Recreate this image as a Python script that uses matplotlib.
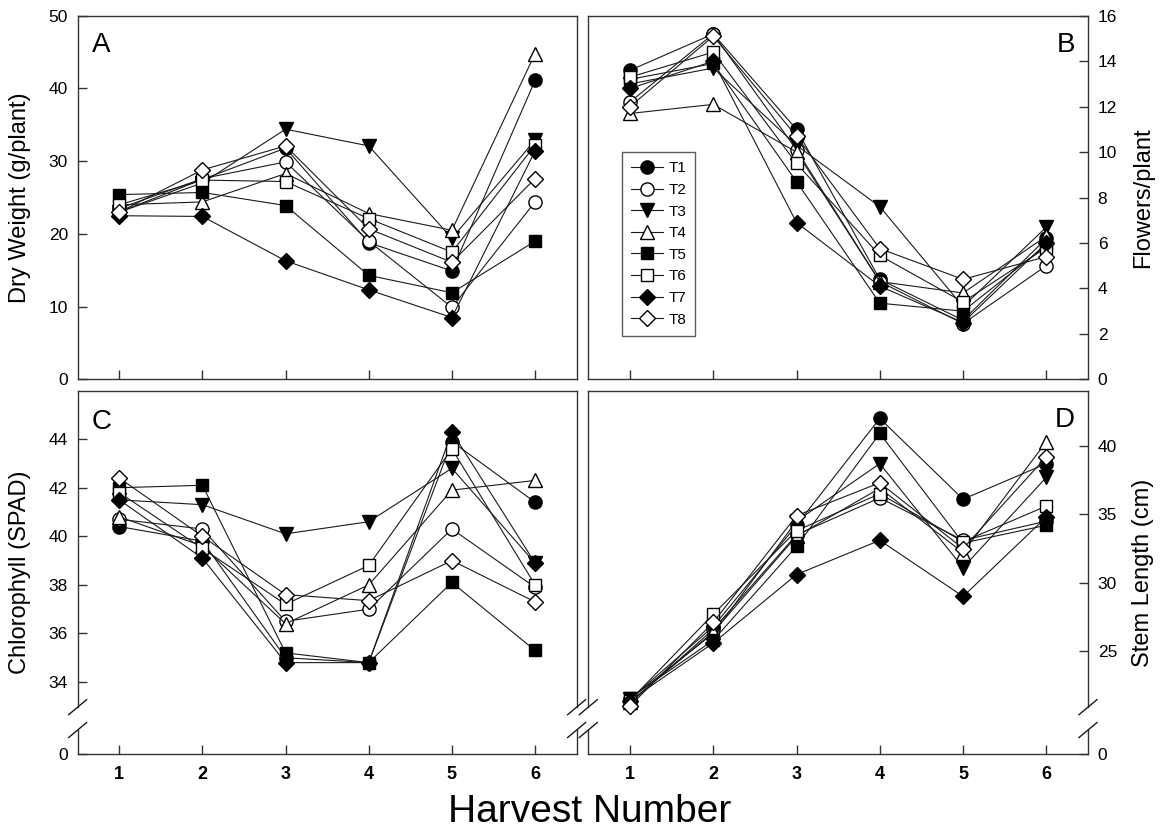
import numpy as np
import matplotlib
matplotlib.use('Agg')
import matplotlib.pyplot as plt

plt.rcParams['font.family'] = ['Liberation Sans', 'DejaVu Sans']

# Numero de cosecha
harvest = [1, 2, 3, 4, 5, 6]
treatments = ['T1', 'T2', 'T3', 'T4', 'T5', 'T6', 'T7', 'T8']

# A: peso seco (g/planta), una fila por tratamiento
dry_weight = [
    [23.0, 27.5, 31.8, 18.8, 14.9, 41.1],
    [23.5, 27.6, 29.9, 19.0, 9.9, 24.4],
    [23.0, 27.0, 34.4, 32.1, 19.4, 32.9],
    [24.0, 24.4, 28.3, 22.8, 20.5, 44.8],
    [25.4, 25.7, 23.9, 14.3, 11.9, 19.0],
    [24.0, 27.4, 27.2, 22.1, 17.5, 32.2],
    [22.5, 22.4, 16.3, 12.3, 8.5, 31.4],
    [23.0, 28.8, 32.1, 20.7, 16.1, 27.6],
]

# B: flores por planta
flowers = [
    [13.6, 15.2, 11.0, 4.4, 2.6, 6.2],
    [12.2, 15.2, 10.1, 4.3, 2.45, 5.0],
    [13.0, 13.7, 10.3, 7.6, 3.2, 6.7],
    [11.7, 12.1, 10.0, 4.3, 3.8, 6.3],
    [13.2, 13.9, 8.7, 3.35, 3.0, 5.9],
    [13.3, 14.4, 9.5, 5.45, 3.4, 5.8],
    [12.8, 14.0, 6.9, 4.1, 2.5, 6.0],
    [12.0, 15.1, 10.7, 5.75, 4.4, 5.4],
]

# C: clorofila (SPAD)
chlorophyll = [
    [40.4, 39.8, 35.0, 34.8, 43.9, 41.4],
    [40.7, 40.3, 36.5, 37.0, 40.3, 37.9],
    [41.5, 41.3, 40.1, 40.6, 42.8, 38.9],
    [40.8, 39.6, 36.4, 38.0, 41.9, 42.3],
    [42.0, 42.1, 35.2, 34.8, 38.1, 35.3],
    [41.8, 39.5, 37.2, 38.8, 43.6, 38.0],
    [41.5, 39.1, 34.8, 34.8, 44.3, 38.9],
    [42.4, 40.0, 37.6, 37.35, 39.0, 37.3],
]

# D: longitud del tallo (cm)
stem_length = [
    [21.5, 26.8, 34.2, 42.0, 36.1, 38.7],
    [21.2, 26.6, 33.5, 36.2, 33.1, 34.5],
    [21.5, 26.3, 34.5, 38.7, 31.1, 37.7],
    [21.3, 26.4, 33.4, 36.9, 32.2, 40.3],
    [21.6, 25.8, 32.65, 40.9, 32.9, 34.2],
    [21.4, 27.7, 33.8, 36.5, 33.0, 35.6],
    [21.4, 25.6, 30.6, 33.1, 29.0, 34.8],
    [21.0, 27.1, 34.9, 37.3, 32.5, 39.2],
]

# estilo de marcador por tratamiento
markers = ['o', 'o', 'v', '^', 's', 's', 'D', 'D']
faces = ['black', 'white'] * 4
sizes = [9.5, 9.5, 9.5, 9.5, 8.8, 8.8, 7.8, 7.8]

fig = plt.figure(figsize=(11.68, 8.3), dpi=100)
ax_a = fig.add_axes([0.0665, 0.543, 0.4272, 0.438])
ax_b = fig.add_axes([0.5037, 0.543, 0.4278, 0.438])
ax_c = fig.add_axes([0.0665, 0.0916, 0.4272, 0.4373])
ax_d = fig.add_axes([0.5037, 0.0916, 0.4278, 0.4373])


def draw(ax, data):
    for i, vals in enumerate(data):
        ax.plot(harvest, vals, color='#1a1a1a', lw=0.8, marker=markers[i],
                ms=sizes[i], mfc=faces[i], mec='black', mew=1.0,
                label=treatments[i])
    ax.set_xlim(0.5, 6.5)
    ax.set_xticks(harvest)
    for sp in ax.spines.values():
        sp.set_linewidth(1.0)
        sp.set_color('#333333')
    ax.tick_params(direction='in', length=6.5, width=1.0, color='#333333',
                   labelsize=12.5, pad=7)


def broken(ax):
    # eje cortado: huecos en los bordes verticales y barras dobles
    ax.spines['left'].set_visible(False)
    ax.spines['right'].set_visible(False)
    y1, y2 = 0.066, 0.129
    dx, dy = 0.018, 0.0207
    for x in (0, 1):
        ax.plot([x, x], [0, y1], transform=ax.transAxes, color='#333333',
                lw=1.0, clip_on=False)
        ax.plot([x, x], [y2, 1], transform=ax.transAxes, color='#333333',
                lw=1.0, clip_on=False)
        for y in (y1, y2):
            ax.plot([x - dx, x + dx], [y - dy, y + dy], transform=ax.transAxes,
                    color='#1a1a1a', lw=1.0, clip_on=False)


draw(ax_a, dry_weight)
ax_a.set_ylim(0, 50)
ax_a.set_yticks([0, 10, 20, 30, 40, 50])
ax_a.tick_params(axis='x', labelbottom=False)

draw(ax_b, flowers)
ax_b.set_ylim(0, 16)
ax_b.set_yticks(np.arange(0, 17, 2))
ax_b.yaxis.tick_right()
ax_b.tick_params(axis='x', labelbottom=False)
ax_b.tick_params(axis='y', direction='in', length=6.5, width=1.0, pad=7)

draw(ax_c, chlorophyll)
c_low = 31.04
ax_c.set_ylim(c_low, 45.98)
ax_c.set_yticks([c_low, 34, 36, 38, 40, 42, 44])
ax_c.set_yticklabels(['0', '34', '36', '38', '40', '42', '44'])
broken(ax_c)

draw(ax_d, stem_length)
d_low = 17.5
ax_d.set_ylim(d_low, 44.0)
ax_d.set_yticks([d_low, 25, 30, 35, 40])
ax_d.set_yticklabels(['0', '25', '30', '35', '40'])
ax_d.yaxis.tick_right()
ax_d.tick_params(axis='y', direction='in', length=6.5, width=1.0, pad=7)
broken(ax_d)

for ax in (ax_c, ax_d):
    ax.set_xticklabels([str(h) for h in harvest], fontweight='bold', fontsize=13)
    ax.tick_params(axis='x', pad=9)

# letras de panel
ax_a.text(0.029, 0.955, 'A', transform=ax_a.transAxes, fontsize=20, ha='left', va='top')
ax_b.text(0.974, 0.955, 'B', transform=ax_b.transAxes, fontsize=20, ha='right', va='top')
ax_c.text(0.027, 0.950, 'C', transform=ax_c.transAxes, fontsize=20, ha='left', va='top')
ax_d.text(0.974, 0.956, 'D', transform=ax_d.transAxes, fontsize=20, ha='right', va='top')

# etiquetas de ejes
fig.text(0.017, 0.762, 'Dry Weight (g/plant)', rotation=90, ha='center', va='center', fontsize=17)
fig.text(0.979, 0.762, 'Flowers/plant', rotation=90, ha='center', va='center', fontsize=17)
fig.text(0.017, 0.310, 'Chlorophyll (SPAD)', rotation=90, ha='center', va='center', fontsize=17)
fig.text(0.979, 0.310, 'Stem Length (cm)', rotation=90, ha='center', va='center', fontsize=17)
fig.text(0.505, 0.022, 'Harvest Number', ha='center', va='center', fontsize=28)

leg = ax_b.legend(loc='upper left', bbox_to_anchor=(0.067, 0.625), fontsize=11,
                  frameon=True, fancybox=False, edgecolor='#333333',
                  handlelength=2.1, handletextpad=0.35, labelspacing=0.5,
                  borderpad=0.6, borderaxespad=0)
leg.get_frame().set_linewidth(1.0)

fig.savefig('out.png', dpi=100)
